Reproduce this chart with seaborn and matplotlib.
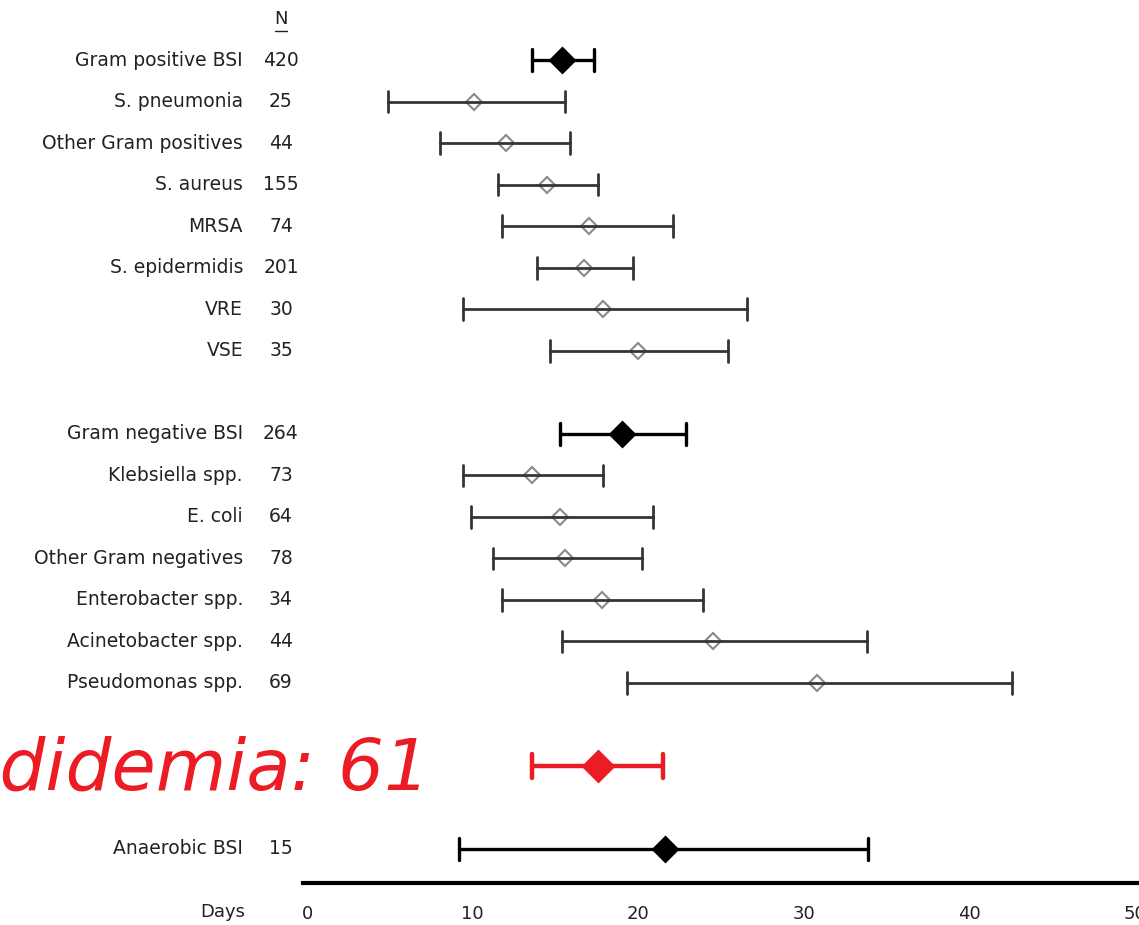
import numpy as np
import pandas as pd
import seaborn as sns
import matplotlib.pyplot as plt
from matplotlib import transforms

# organisms, top to bottom
labels = ["Gram positive BSI", "S. pneumonia", "Other Gram positives", "S. aureus",
          "MRSA", "S. epidermidis", "VRE", "VSE",
          "Gram negative BSI", "Klebsiella spp.", "E. coli", "Other Gram negatives",
          "Enterobacter spp.", "Acinetobacter spp.", "Pseudomonas spp.",
          "Anaerobic BSI"]
n_pts = [420, 25, 44, 155, 74, 201, 30, 35, 264, 73, 64, 78, 34, 44, 69, 15]
rows = [0, 1, 2, 3, 4, 5, 6, 7, 9, 10, 11, 12, 13, 14, 15, 19]
kind = ["total"] + ["sub"] * 7 + ["total"] + ["sub"] * 6 + ["total"]

# days: median and interval
median = [15.4, 10.1, 12.0, 14.5, 17.0, 16.7, 17.9, 20.0,
          19.0, 13.6, 15.3, 15.6, 17.8, 24.5, 30.8, 21.6]
low = [13.6, 4.9, 8.0, 11.5, 11.8, 13.9, 9.4, 14.7,
       15.3, 9.4, 9.9, 11.2, 11.8, 15.4, 19.3, 9.2]
high = [17.3, 15.6, 15.9, 17.6, 22.1, 19.7, 26.6, 25.4,
        22.9, 17.9, 20.9, 20.2, 23.9, 33.8, 42.6, 33.9]

cand_label = "Candidemia: 61"
cand_row = 17
cand_low, cand_median, cand_high = 13.6, 17.6, 21.5

ticks = [0, 10, 20, 30, 40, 50]

recs = []
for r, k, lo, md, hi in zip(rows, kind, low, median, high):
    for v in (lo, md, hi):
        recs.append({"row": r, "days": v, "kind": k})
df = pd.DataFrame(recs)
cand = pd.DataFrame({"row": cand_row, "days": [cand_low, cand_median, cand_high]})

sns.set_theme(style="white")
plt.rcParams["font.family"] = ["DejaVu Sans"]

fig = plt.figure(figsize=(11.39, 9.25), dpi=100)
ax = fig.add_axes([303 / 1139, 42 / 925, 1 - 303 / 1139, 881 / 925])


def span(v):
    return v.min(), v.max()


def forest(data, cap, err_kws, **kws):
    u = np.unique(data["row"])
    w = np.diff(u).min() if len(u) > 1 else 1
    sns.pointplot(data=data, x="days", y="row", orient="y", native_scale=True,
                  estimator="median", errorbar=span, capsize=cap / w,
                  err_kws=err_kws, linestyle="none", marker="D", ax=ax, **kws)


red = "#ec1c24"
forest(df[df.kind == "sub"], 0.52, {"color": "#353535", "linewidth": 2.0},
       color="#353535", markersize=8, markerfacecolor="none",
       markeredgecolor="#8a8a8a", markeredgewidth=1.5)
forest(df[df.kind == "total"], 0.52, {"color": "black", "linewidth": 2.4},
       color="black", markersize=12)
forest(cand, 0.58, {"color": red, "linewidth": 3.2},
       color=red, markersize=15)

ax.set_xlim(-0.25, 50.25)
ax.set_ylim(19.82, -1.4)
ax.set_xlabel("")
ax.set_ylabel("")
ax.set_yticks([])
ax.set_xticks(ticks)
ax.tick_params(axis="x", length=0, pad=16, labelsize=13, labelcolor="#222222")
sns.despine(ax=ax, left=True)
ax.spines["bottom"].set_linewidth(3)
ax.spines["bottom"].set_color("black")

tr = transforms.blended_transform_factory(fig.transFigure, ax.transData)
for r, lab, n in zip(rows, labels, n_pts):
    ax.text(243 / 1139, r, lab, transform=tr, ha="right", va="center",
            fontsize=13.5, color="#222222")
    ax.text(281 / 1139, r, str(n), transform=tr, ha="center", va="center",
            fontsize=13.5, color="#222222")

ax.text(281 / 1139, -1, "N", transform=tr, ha="center", va="center",
        fontsize=13, color="#222222")
ax.plot([275 / 1139, 287 / 1139], [-0.7, -0.7], transform=tr,
        clip_on=False, color="#222222", linewidth=1)

ax.text(430 / 1139, cand_row + 0.58, cand_label, transform=tr, ha="right",
        va="baseline", color=red, fontsize=52, fontstyle="italic")

fig.text(245 / 1139, 1 - 912 / 925, "Days", ha="right", va="center",
         fontsize=13, color="#222222")

fig.savefig("out.png", dpi=100, facecolor="white")
